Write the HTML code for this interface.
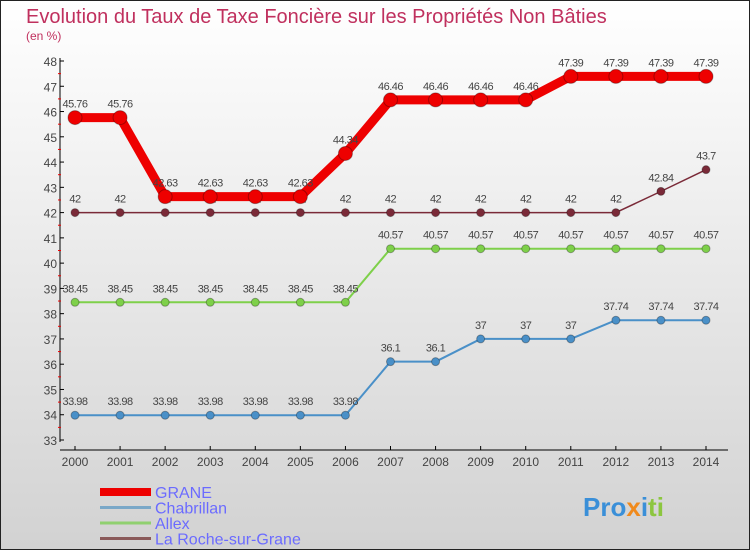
<!DOCTYPE html>
<html><head><meta charset="utf-8"><style>
body{margin:0}
svg{display:block;font-family:"Liberation Sans",sans-serif}
</style></head><body>
<svg width="750" height="550" viewBox="0 0 750 550">
<defs><linearGradient id="bg" x1="0" y1="0" x2="0" y2="1"><stop offset="0" stop-color="#ffffff"/><stop offset="1" stop-color="#d2d2d2"/></linearGradient></defs>
<rect x="0.5" y="0.5" width="749" height="549" fill="url(#bg)" stroke="#222"/>
<text x="26" y="23" font-size="20" fill="#c0305e">Evolution du Taux de Taxe Foncière sur les Propriétés Non Bâties</text>
<text x="26" y="40" font-size="12" fill="#c0305e">(en %)</text>
<g id="axes"></g>
<g id="series"></g>
<g id="legend"></g>
<text x="583" y="516" font-size="26" font-weight="bold"><tspan fill="#3a8fd8">Pro</tspan><tspan fill="#f08a1c">x</tspan><tspan fill="#3a8fd8">i</tspan><tspan fill="#8cc63f">ti</tspan></text>
</svg>
<script>
const years=[2000,2001,2002,2003,2004,2005,2006,2007,2008,2009,2010,2011,2012,2013,2014];
const grane=[45.76,45.76,42.63,42.63,42.63,42.63,44.34,46.46,46.46,46.46,46.46,47.39,47.39,47.39,47.39];
const chabrillan=[33.98,33.98,33.98,33.98,33.98,33.98,33.98,36.1,36.1,37,37,37,37.74,37.74,37.74];
const allex=[38.45,38.45,38.45,38.45,38.45,38.45,38.45,40.57,40.57,40.57,40.57,40.57,40.57,40.57,40.57];
const roche=[42,42,42,42,42,42,42,42,42,42,42,42,42,42.84,43.7];
const yTicks=[33,34,35,36,37,38,39,40,41,42,43,44,45,46,47,48];
const NS="http://www.w3.org/2000/svg";
const X=i=>75+i*(706-75)/14;
const Y=v=>440-(v-33)*(440-61)/15;
function mk(p,t,a){const e=document.createElementNS(NS,t);for(const k in a)e.setAttribute(k,a[k]);p.appendChild(e);return e;}
const ax=document.getElementById('axes');
let l=mk(ax,'line',{x1:60,y1:58,x2:60,y2:442,stroke:'#000'});


l=mk(ax,'line',{x1:60,y1:450,x2:728,y2:450,stroke:'#000'});


yTicks.forEach(v=>{
  mk(ax,'line',{x1:60,y1:Y(v),x2:64,y2:Y(v),stroke:'#000'});
  if(v<48)mk(ax,'line',{x1:58,y1:Y(v+0.5),x2:61,y2:Y(v+0.5),stroke:'#e00'});
  const t=mk(ax,'text',{x:57,y:Y(v)+5,'font-size':12,fill:'#444','text-anchor':'end'});
  t.textContent=v;
  
  
});
years.forEach((yr,i)=>{
  mk(ax,'line',{x1:X(i),y1:446,x2:X(i),y2:450,stroke:'#000'});
  const t=mk(ax,'text',{x:X(i),y:466,'font-size':12,fill:'#444','text-anchor':'middle'});
  t.textContent=yr;
  
  
});
const sg=document.getElementById('series');
function draw(vals,color,w,r,name){
  const g=mk(sg,'g',{});
  
  
  mk(g,'polyline',{points:vals.map((v,i)=>X(i)+','+Y(v)).join(' '),fill:'none',stroke:color,'stroke-width':w,'stroke-linejoin':'round'});
  vals.forEach((v,i)=>{
    const c=mk(g,'circle',{cx:X(i),cy:Y(v),r:r,fill:color,stroke:'rgba(0,0,0,0.3)'});
    
    
    const t=mk(g,'text',{x:X(i),y:Y(v)-10,'font-size':11,fill:'#444','text-anchor':'middle','letter-spacing':'-0.5'});
    t.textContent=v;
    
    
  });
}
draw(chabrillan,'#4a90c8',2,4,'chabrillan');
draw(allex,'#7ed04a',2,4,'allex');
draw(roche,'#7a2a38',1.5,4,'la-roche-sur-grane');
draw(grane,'#ee0000',9,7,'grane');
const lg=document.getElementById('legend');
const leg=[['GRANE','#ee0000',8],['Chabrillan','#7aa8c8',3],['Allex','#90d070',3],['La Roche-sur-Grane','#8a5a5a',3]];
leg.forEach((d,i)=>{
  const y=492+i*15.5;
  const g=mk(lg,'g',{});
  
  
  mk(g,'line',{x1:100,y1:y,x2:151,y2:y,stroke:d[1],'stroke-width':d[2]});
  const t=mk(g,'text',{x:155,y:y+6,'font-size':16,fill:'#6b6bff'});
  t.textContent=d[0];
});
</script>
</body></html>
